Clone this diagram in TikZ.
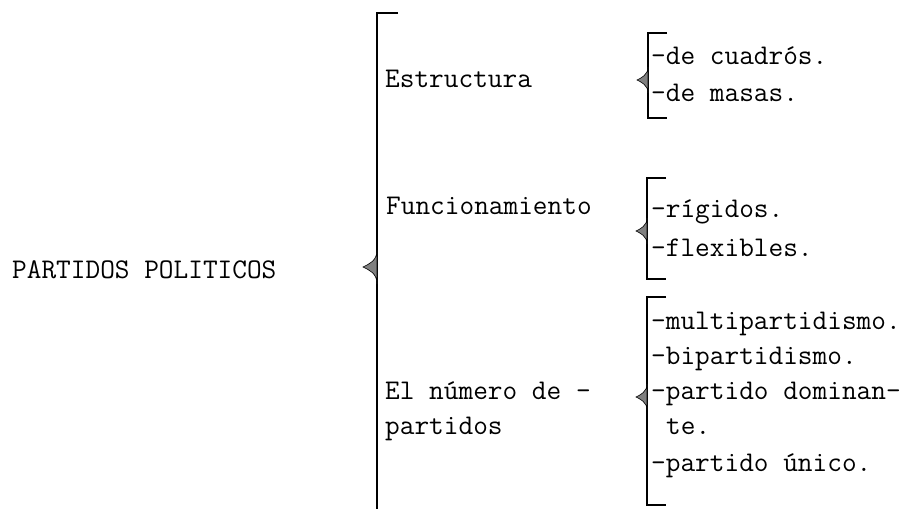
\documentclass[tikz,border=0pt]{standalone}
\begin{document}
\begin{tikzpicture}[x=1pt,y=-1pt,
  lbl/.style={anchor=mid west, inner sep=0pt, font=\fontsize{28.5}{34}\selectfont\ttfamily},
  brk/.style={line width=1.1pt, draw=black},
  tipfill/.style={fill=black!50, draw=black, line width=0.6pt}]
\useasboundingbox (0,0) rectangle (912,509);
% texts
\node[lbl] (pp) at (12,276) {PARTIDOS POLITICOS};
\node[lbl] (e) at (385,85) {Estructura};
\node[lbl] (f) at (386,212) {Funcionamiento};
\node[lbl] (n1) at (385,397) {El número de -};
\node[lbl] (n2) at (385,432) {partidos};
\node[lbl] (a1) at (651,62) {-de cuadrós.};
\node[lbl] (a2) at (651,99) {-de masas.};
\node[lbl] (b1) at (651,215) {-rígidos.};
\node[lbl] (b2) at (651,254) {-flexibles.};
\node[lbl] (c1) at (651,327) {-multipartidismo.};
\node[lbl] (c2) at (651,362) {-bipartidismo.};
\node[lbl] (c3) at (651,397) {-partido dominan-};
\node[lbl] (c4) at (666,432) {te.};
\node[lbl] (c5) at (651,469) {-partido único.};
% big bracket
\coordinate (B0) at (377,13);
\coordinate (B1) at (377,509);
\coordinate (Bt) at (363,267);
\draw[brk] (398,13) -- (B0) -- (B1);
\filldraw[tipfill] (377,250) .. controls (377,261) and (369,264) .. (Bt) .. controls (369,270) and (377,273) .. (377,284) -- cycle;
% small brackets
\newcommand\mybrk[5]{%
  \draw[brk] (#1+19,#2) -- (#1,#2) -- (#1,#4) -- (#1+19,#4);
  \filldraw[tipfill] (#1,#3-13) .. controls (#1,#3-5) and (#1-#5+4,#3-2) .. (#1-#5,#3) .. controls (#1-#5+4,#3+2) and (#1,#3+5) .. (#1,#3+13) -- cycle;
}
\mybrk{648}{33}{80}{118}{11}
\mybrk{647}{178}{231}{279}{11}
\mybrk{647}{297}{397}{505}{11}
\end{tikzpicture}
\end{document}
